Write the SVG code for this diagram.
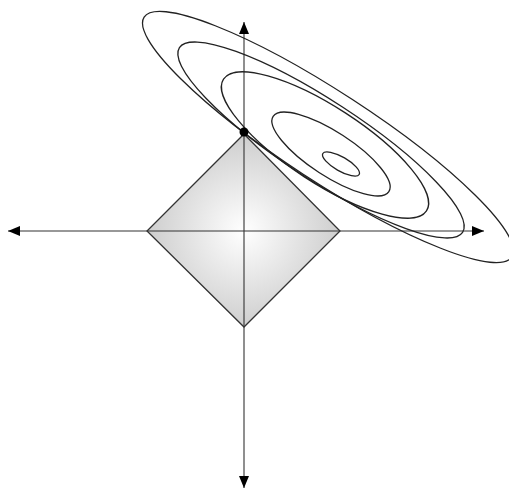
<svg xmlns="http://www.w3.org/2000/svg" width="509" height="494" viewBox="0 0 509 494">
<defs>
<radialGradient id="g" cx="244" cy="231" r="100" gradientUnits="userSpaceOnUse">
<stop offset="0" stop-color="#ffffff"/>
<stop offset="1" stop-color="#cccccc"/>
</radialGradient>
<marker id="ah" viewBox="0 0 12 10" refX="12" refY="5" markerWidth="12" markerHeight="10" markerUnits="userSpaceOnUse" orient="auto">
<path d="M0,0 L12,5 L0,10 Z" fill="#000"/>
</marker>
</defs>
<style>
.ax{stroke:#333;stroke-width:1.1;fill:none;marker-end:url(#ah)}
.el{stroke:#222;stroke-width:1.3;fill:none}
</style>
<rect width="509" height="494" fill="#fff"/>
<g id="diamond">
<polygon points="244,134 340,231 244,327 147,231" fill="url(#g)" stroke="#333" stroke-width="1.3"/>
</g>
<g id="axes">
<line class="ax" x1="244" y1="231" x2="484" y2="231"/>
<line class="ax" x1="244" y1="231" x2="8" y2="231"/>
<line class="ax" x1="244" y1="231" x2="244" y2="22"/>
<line class="ax" x1="244" y1="231" x2="244" y2="488"/>
</g>
<g id="ellipses">
<ellipse class="el" cx="0" cy="0" rx="21" ry="7" transform="translate(341,164) rotate(30)"/>
<ellipse class="el" cx="0" cy="0" rx="69" ry="22" transform="translate(331,154) rotate(33)"/>
<ellipse class="el" cx="0" cy="0" rx="121" ry="38" transform="translate(325,145) rotate(33)"/>
<ellipse class="el" cx="0" cy="0" rx="169" ry="39.3" transform="translate(321,140) rotate(33.1)"/>
<ellipse class="el" cx="0" cy="0" rx="219.5" ry="44.7" transform="translate(328,137) rotate(33.1)"/>
</g>
<g id="dot">
<circle cx="244" cy="132" r="4.5" fill="#000"/>
</g>
</svg>
